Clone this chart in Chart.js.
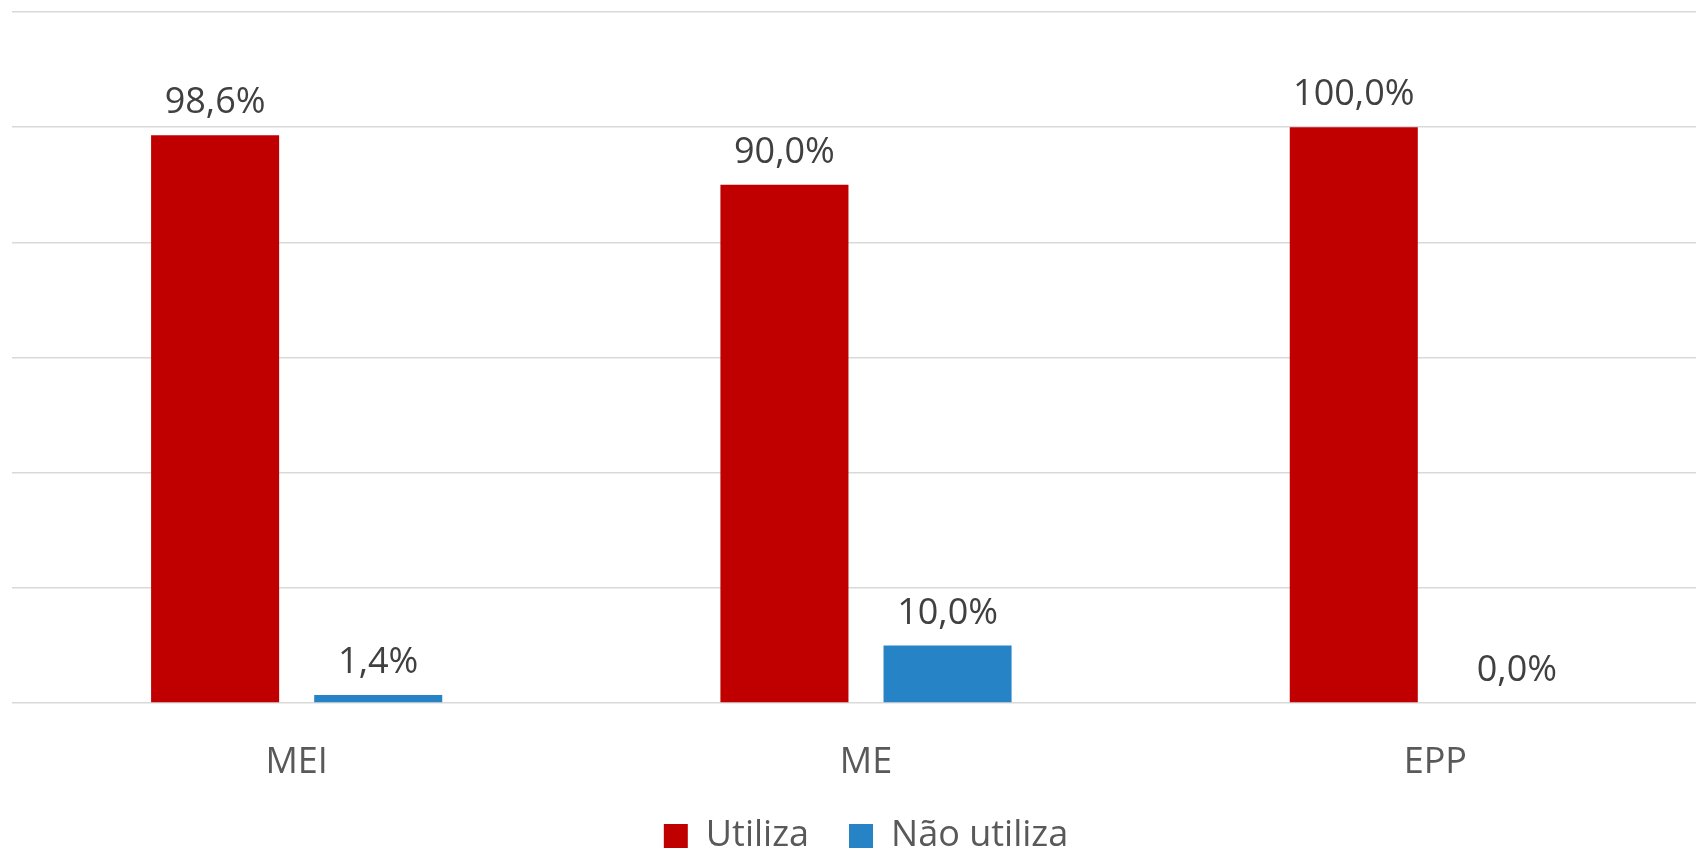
<!DOCTYPE html>
<html>
<head>
<meta charset="utf-8">
<script src="https://cdn.jsdelivr.net/npm/chart.js@4.4.0/dist/chart.umd.min.js"></script>
<style>
    html, body { margin: 0; padding: 0; background: #fff; overflow: hidden; }
    #wrap { position: absolute; left: 0; top: 0; width: 1744px; height: 849px; }
</style>
</head>
<body>
<div id="wrap"><canvas id="chart" width="1744" height="849"></canvas></div>
<script>
// chart data
const categories = ['MEI', 'ME', 'EPP'];
const utiliza = [98.6, 90.0, 100.0];
const naoUtiliza = [1.4, 10.0, 0.0];
const seriesNames = ['Utiliza', 'Não utiliza'];

const FONT = "'Open Sans', sans-serif";
const LEGEND_H = 71;   // fixed legend block height
const XAXIS_H = 75;    // fixed category axis height

/**
 * Value labels above each bar (pt-BR decimal comma)
 */
const valueLabels = {
    id: 'valueLabels',
    afterDatasetsDraw(chart) {
        const ctx = chart.ctx;
        ctx.save();
        ctx.font = '36px ' + FONT;
        ctx.fillStyle = '#404040';
        ctx.textAlign = 'center';
        ctx.textBaseline = 'middle';
        chart.data.datasets.forEach(function(ds, i) {
            const meta = chart.getDatasetMeta(i);
            meta.data.forEach(function(bar, j) {
                const txt = ds.data[j].toFixed(1).replace('.', ',') + '%';
                ctx.fillText(txt, bar.x, bar.y - 32);
            });
        });
        ctx.restore();
    }
};

/**
 * Keep legend height fixed (labels.padding is needed for horizontal spacing)
 */
const fitLegend = {
    id: 'fitLegend',
    beforeUpdate(chart) {
        const lg = chart.legend;
        if (lg && !lg._fixedHeight) {
            const fit = lg.fit;
            lg.fit = function() {
                fit.apply(this, arguments);
                this.height = LEGEND_H;
            };
            lg._fixedHeight = true;
        }
    }
};

new Chart(document.getElementById('chart'), {
    type: 'bar',
    data: {
        labels: categories,
        datasets: [
            {
                label: seriesNames[0],
                data: utiliza,
                backgroundColor: '#C00000',
                categoryPercentage: 0.573,
                barPercentage: 0.785
            },
            {
                label: seriesNames[1],
                data: naoUtiliza,
                backgroundColor: '#2683C6',
                categoryPercentage: 0.573,
                barPercentage: 0.785
            }
        ]
    },
    options: {
        responsive: false,
        animation: false,
        layout: {
            padding: { left: 12, right: 24, top: 12, bottom: 0 }
        },
        plugins: {
            legend: {
                position: 'bottom',
                labels: {
                    font: { family: FONT, size: 36 },
                    color: '#595959',
                    boxWidth: 24,
                    boxHeight: 24,
                    padding: 40
                }
            },
            tooltip: { enabled: false }
        },
        scales: {
            x: {
                grid: { display: false },
                border: { display: false },
                ticks: {
                    font: { family: FONT, size: 36 },
                    color: '#595959',
                    padding: 30
                },
                afterFit: function(scale) {
                    scale.height = XAXIS_H;
                }
            },
            y: {
                min: 0,
                max: 120,
                ticks: { display: false, stepSize: 20 },
                grid: { color: '#d9d9d9', lineWidth: 1.5, drawTicks: false },
                border: { display: false }
            }
        }
    },
    plugins: [valueLabels, fitLegend]
});
</script>
</body>
</html>
